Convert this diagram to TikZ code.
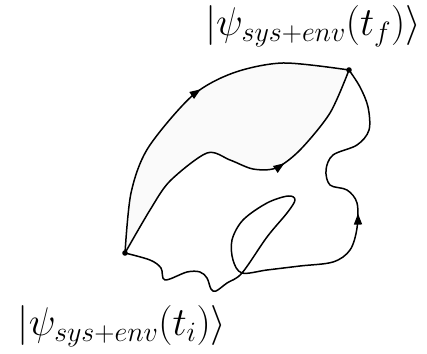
\RequirePackage{fix-cm}
\documentclass[tikz,border=0pt]{standalone}
\usepackage{tikz}
\usetikzlibrary{arrows.meta,decorations.markings}

\begin{document}
\begin{tikzpicture}[
  x=1pt, y=1pt,
  >={Triangle[length=11pt,width=8pt]},
  traj/.style={line width=1.5pt, line cap=round, line join=round},
  midarrow/.style={postaction={decorate},
                   decoration={markings, mark=at position #1 with {\arrow{>}}}},
  state/.style={font=\fontsize{40}{46}\selectfont, inner sep=0pt},
]
\useasboundingbox (0,0) rectangle (427,353);

% ---- end points ----
\coordinate (ini) at (125,100);
\coordinate (fin) at (349,283);

% ---- shaded region between the two upper paths ----
\fill[gray!4] plot[smooth] coordinates {(ini) (131,160) (148,205) (192,257) (233,280) (283,290) (fin)}
  -- plot[smooth] coordinates {(fin) (330,240) (300,203) (276,185) (253,184) (230,193) (207,200) (170,172) (150,143) (ini)}
  -- cycle;

% ---- paths ----
\draw[traj, midarrow=0.55] plot[smooth] coordinates
  {(ini) (131,160) (148,205) (192,257) (233,280) (283,290) (fin)};
\draw[traj, midarrow=0.65] plot[smooth] coordinates
  {(ini) (150,143) (170,172) (207,200) (230,193) (253,184) (276,185) (300,203) (330,240) (fin)};
\draw[traj, midarrow=0.73] plot[smooth, tension=0.55] coordinates
  {(ini) (150,93) (161,85) (165,73) (187,81) (200,81) (207,75) (211,64) (216,62) (227,70) (242,80)
   (267,116) (287,140) (295,153) (288,157) (267,150) (243,133) (232,113) (233,93) (242,80)
   (267,83) (300,87) (333,91) (350,103) (357,125) (357,150) (347,163) (330,168) (326,183)
   (333,198) (357,208) (369,223) (368,246) (360,266) (fin)};

% ---- end point dots ----
\fill (ini) circle (2.8pt);
\fill (fin) circle (2.8pt);

% ---- labels ----
\node[state] (lfin) at (313,327) {$|\psi_{sys+env}(t_f)\rangle$};
\node[state] (lini) at (122,27) {$|\psi_{sys+env}(t_i)\rangle$};

\end{tikzpicture}
\end{document}
